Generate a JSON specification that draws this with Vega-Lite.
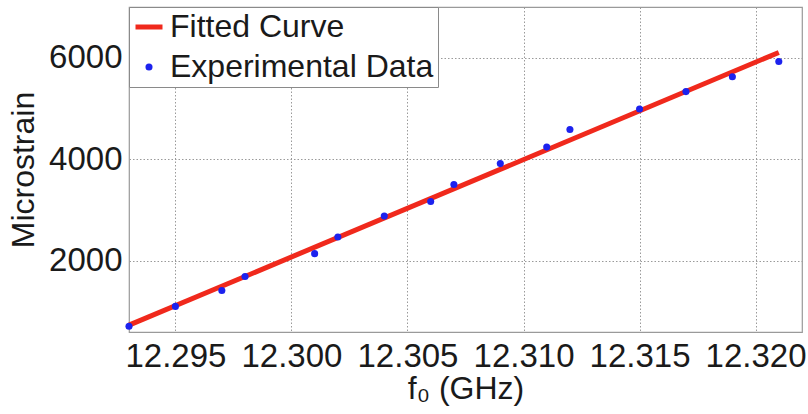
{
  "$schema": "https://vega.github.io/schema/vega-lite/v6.json",
  "width": 673,
  "height": 325,
  "autosize": {"type": "none"},
  "padding": {"left": 129, "top": 7, "right": 6, "bottom": 82},
  "background": "white",
  "config": {
    "font": "Liberation Sans",
    "view": {"stroke": "#9a9a9a", "strokeWidth": 1.2},
    "axis": {
      "grid": true,
      "gridColor": "#9a9a9a",
      "gridDash": [1.5, 2],
      "gridWidth": 1,
      "domain": false,
      "ticks": false,
      "labelFont": "Liberation Sans",
      "labelFontSize": 33,
      "labelColor": "#1a1a1a",
      "titleFont": "Liberation Sans",
      "titleFontSize": 32,
      "titleFontWeight": "normal",
      "titleColor": "#1a1a1a"
    }
  },
  "datasets": {
    "fit": [
      {"f0": 12.293, "strain": 735, "series": "Fitted Curve"},
      {"f0": 12.321, "strain": 6105, "series": "Fitted Curve"}
    ],
    "exp": [
      {"f0": 12.293, "strain": 712, "series": "Experimental Data"},
      {"f0": 12.295, "strain": 1104, "series": "Experimental Data"},
      {"f0": 12.297, "strain": 1418, "series": "Experimental Data"},
      {"f0": 12.298, "strain": 1692, "series": "Experimental Data"},
      {"f0": 12.301, "strain": 2143, "series": "Experimental Data"},
      {"f0": 12.302, "strain": 2470, "series": "Experimental Data"},
      {"f0": 12.304, "strain": 2882, "series": "Experimental Data"},
      {"f0": 12.306, "strain": 3170, "series": "Experimental Data"},
      {"f0": 12.307, "strain": 3504, "series": "Experimental Data"},
      {"f0": 12.309, "strain": 3916, "series": "Experimental Data"},
      {"f0": 12.311, "strain": 4241, "series": "Experimental Data"},
      {"f0": 12.312, "strain": 4588, "series": "Experimental Data"},
      {"f0": 12.315, "strain": 4993, "series": "Experimental Data"},
      {"f0": 12.317, "strain": 5334, "series": "Experimental Data"},
      {"f0": 12.319, "strain": 5628, "series": "Experimental Data"},
      {"f0": 12.321, "strain": 5928, "series": "Experimental Data"}
    ]
  },
  "encoding": {
    "x": {
      "field": "f0",
      "type": "quantitative",
      "scale": {"domain": [12.293, 12.322], "nice": false, "zero": false},
      "axis": {
        "values": [12.295, 12.3, 12.305, 12.31, 12.315, 12.32],
        "format": ".3f",
        "labelPadding": 8,
        "title": "f₀ (GHz)",
        "titlePadding": 0
      }
    },
    "y": {
      "field": "strain",
      "type": "quantitative",
      "scale": {"domain": [600, 7000], "nice": false, "zero": false},
      "axis": {
        "values": [2000, 4000, 6000],
        "format": "d",
        "labelPadding": 7,
        "title": "Microstrain",
        "titlePadding": 8
      }
    },
    "color": {
      "field": "series",
      "type": "nominal",
      "scale": {
        "domain": ["Fitted Curve", "Experimental Data"],
        "range": ["#f0291c", "#1c22ee"]
      },
      "legend": {
        "title": null,
        "orient": "top-left",
        "offset": 0,
        "padding": 4,
        "fillColor": "white",
        "strokeColor": "#8a8a8a",
        "labelFont": "Liberation Sans",
        "labelFontSize": 32,
        "labelColor": "#1a1a1a",
        "labelLimit": 400,
        "labelOffset": 5,
        "rowPadding": 8,
        "symbolSize": 729,
        "encode": {
          "symbols": {
            "update": {
              "shape": {"signal": "datum.value === 'Fitted Curve' ? 'stroke' : 'circle'"},
              "size": {"signal": "datum.value === 'Fitted Curve' ? 729 : 50"},
              "strokeWidth": {"signal": "datum.value === 'Fitted Curve' ? 5 : 0"},
              "stroke": {"signal": "datum.value === 'Fitted Curve' ? '#f0291c' : '#1c22ee'"},
              "fill": {"signal": "datum.value === 'Fitted Curve' ? 'transparent' : '#1c22ee'"},
              "opacity": {"value": 1}
            }
          }
        }
      }
    }
  },
  "layer": [
    {
      "data": {"name": "fit"},
      "mark": {"type": "line", "strokeWidth": 5}
    },
    {
      "data": {"name": "exp"},
      "mark": {"type": "point", "filled": true, "size": 50, "opacity": 1}
    }
  ]
}
